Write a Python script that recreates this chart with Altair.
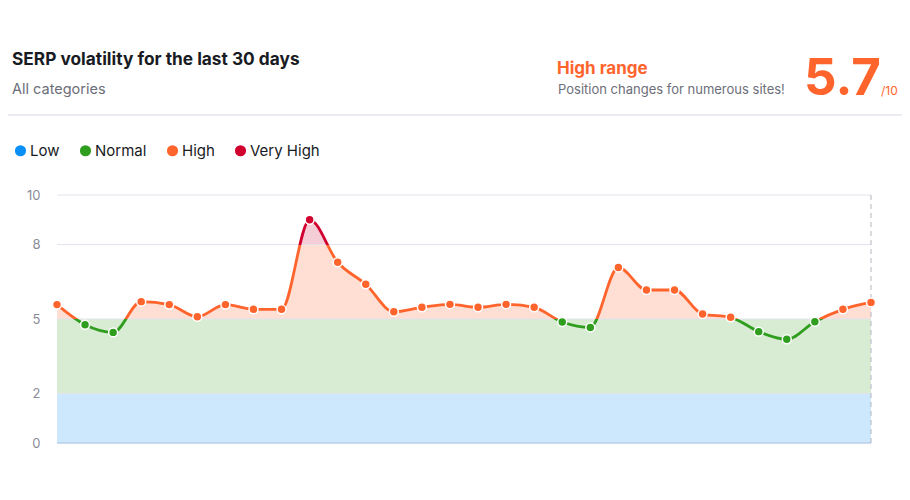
import altair as alt
import pandas as pd

# ---- data ----
days = list(range(1, 31))
values = [5.58, 4.77, 4.46, 5.70, 5.58, 5.09, 5.58, 5.39, 5.39, 9.0,
          7.29, 6.4, 5.29, 5.47, 5.59, 5.47, 5.59, 5.47, 4.88, 4.66,
          7.08, 6.17, 6.17, 5.2, 5.07, 4.49, 4.18, 4.89, 5.39, 5.67]
y_ticks = [0, 2, 5, 8, 10]
levels = ["Low", "Normal", "High", "Very High"]
level_colors = ["#0a8ff7", "#2f9e1f", "#ff642d", "#d1002f"]
band_start = [0, 2]
band_end = [2, 5]
band_colors = ["#cde7fc", "#d8ebd3"]
current_score = "5.7"

FONT = "Inter"
ORANGE = "#ff642d"
GREEN = "#2f9e1f"
RED = "#d1002f"


def level(v):
    if v > 8:
        return "Very High"
    if v >= 5:
        return "High"
    if v >= 2:
        return "Normal"
    return "Low"


df = pd.DataFrame({"day": days, "value": values})
df["level"] = [level(v) for v in values]

bands = pd.DataFrame({"y": band_start, "y2": band_end, "c": band_colors,
                      "x": [days[0]] * 2, "x2": [days[-1]] * 2})
grid = pd.DataFrame({"y": y_ticks[1:]})

xscale = alt.Scale(domain=[days[0], days[-1]], nice=False, zero=False)
yscale = alt.Scale(domain=[0, 10], nice=False)

vmin, vmax = min(values), max(values)
t5 = (5 - vmin) / (vmax - vmin)
t8 = (8 - vmin) / (vmax - vmin)
line_grad = alt.Gradient(
    gradient="linear", x1=0, x2=0, y1=1, y2=0,
    stops=[alt.GradientStop(offset=0, color=GREEN),
           alt.GradientStop(offset=t5, color=GREEN),
           alt.GradientStop(offset=t5, color=ORANGE),
           alt.GradientStop(offset=t8, color=ORANGE),
           alt.GradientStop(offset=t8, color=RED),
           alt.GradientStop(offset=1, color=RED)])
a8 = 8 / vmax
area_grad = alt.Gradient(
    gradient="linear", x1=0, x2=0, y1=1, y2=0,
    stops=[alt.GradientStop(offset=0, color="#ffded3"),
           alt.GradientStop(offset=a8, color="#ffded3"),
           alt.GradientStop(offset=a8, color="#f4cdd6"),
           alt.GradientStop(offset=1, color="#f4cdd6")])

base = alt.Chart(df)

area = base.mark_area(interpolate="monotone", color=area_grad).encode(
    x=alt.X("day:Q", scale=xscale, axis=None),
    y=alt.Y("value:Q", scale=yscale,
            axis=alt.Axis(values=y_ticks, domain=False, ticks=False, grid=False,
                          labelPadding=17, labelFontSize=13, labelColor="#8a8c98",
                          labelFont=FONT, title=None)),
)

band = alt.Chart(bands).mark_rect().encode(
    x=alt.X("x:Q", scale=xscale), x2="x2:Q",
    y=alt.Y("y:Q", scale=yscale), y2="y2:Q",
    color=alt.Color("c:N", scale=None),
)

gridlines = alt.Chart(grid).mark_rule(color="#e3e3ec", strokeWidth=1).encode(
    y=alt.Y("y:Q", scale=yscale),
)
baseline = alt.Chart(pd.DataFrame({"y": [y_ticks[0]]})).mark_rule(
    color="#b9cfe8", strokeWidth=1.5).encode(y=alt.Y("y:Q", scale=yscale))

vline = alt.Chart(pd.DataFrame({"x": [days[-1]]})).mark_rule(
    color="#b3b6bf", strokeDash=[5, 4], strokeWidth=1).encode(
    x=alt.X("x:Q", scale=xscale))

line = base.mark_line(interpolate="monotone", color=line_grad, strokeWidth=2.8).encode(
    x=alt.X("day:Q", scale=xscale),
    y=alt.Y("value:Q", scale=yscale),
)

points = base.mark_circle(size=80, opacity=1, stroke="white", strokeWidth=1.5).encode(
    x=alt.X("day:Q", scale=xscale),
    y=alt.Y("value:Q", scale=yscale),
    color=alt.Color("level:N", scale=alt.Scale(domain=levels, range=level_colors),
                    legend=alt.Legend(orient="none", legendX=-44, legendY=-52,
                                      direction="horizontal", title=None,
                                      symbolType="circle", symbolSize=125,
                                      symbolStrokeWidth=0, symbolOpacity=1,
                                      labelFontSize=15, labelFont=FONT,
                                      labelColor="#191b23", labelOffset=2,
                                      columnPadding=18)),
)


def txt(s, x, y, size, color, weight="normal"):
    return alt.Chart(pd.DataFrame({"t": [s]})).mark_text(
        align="left", baseline="alphabetic", font=FONT, fontSize=size,
        color=color, fontWeight=weight).encode(
        text="t:N", x=alt.value(x), y=alt.value(y))


title = txt("SERP volatility for the last 30 days", -45, -130, 17.3, "#191b23", 700)
subtitle = txt("All categories", -45, -101, 14.5, "#6c6e79")
hr_title = txt("High range", 500, -121, 17, ORANGE, 700)
hr_sub = txt("Position changes for numerous sites!", 501, -101, 13, "#6c6e79")
score = txt(current_score, 747, -100, 51, ORANGE, 700)
score_max = txt("/10", 824, -100, 12, ORANGE)

divider = alt.Chart(pd.DataFrame({"a": [0]})).mark_rule(color="#e4e4ec", strokeWidth=1.5).encode(
    x=alt.value(-49), x2=alt.value(845), y=alt.value(-80))

chart = alt.layer(
    area, band, gridlines, baseline, vline, line, points,
    title, subtitle, hr_title, hr_sub, score, score_max, divider,
).properties(
    width=814, height=248,
    autosize=alt.AutoSizeParams(type="none"),
    padding={"left": 49, "top": 187, "right": 31, "bottom": 40},
    background="white",
).configure_view(stroke=None)

chart.save("out.html", embed_options={"renderer": "svg", "actions": False})
